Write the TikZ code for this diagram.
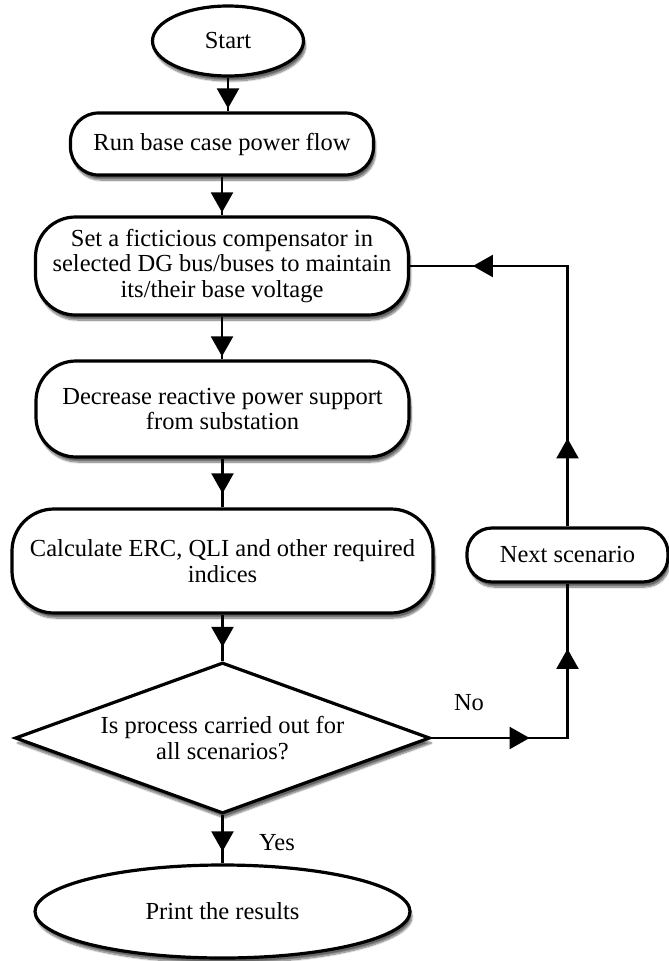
\documentclass[tikz,border=0pt]{standalone}
\usepackage{fontspec}
\setmainfont{Liberation Serif}
\usetikzlibrary{shapes.geometric,arrows.meta,decorations.markings,shadows.blur}

% arrow head placed along a connector
\newcommand\flowtip{\arrow{Triangle[width=22pt,length=20pt]}}

\tikzset{
  box/.style={draw, line width=3.2pt, fill=white, align=center, inner sep=0pt,
    blur shadow={shadow xshift=2pt, shadow yshift=-5pt, shadow blur steps=10, shadow opacity=60}},
  rbox/.style={box, rectangle, rounded corners=#1},
  term/.style={box, ellipse},
  decide/.style={box, diamond, aspect=2.75},
  link/.style={line width=2.2pt},
  tipat/.style={postaction=decorate,
    decoration={markings, mark=at position #1 with {\flowtip}}},
  tiptwo/.style 2 args={postaction=decorate,
    decoration={markings, mark=at position #1 with {\flowtip}, mark=at position #2 with {\flowtip}}},
  lbl/.style={inner sep=0pt},
}

\begin{document}
\begin{tikzpicture}[x=1pt, y=-1pt, font=\fontsize{24.5}{25.5}\selectfont]
\useasboundingbox (0,0) rectangle (669,961);

% process steps
\node[term, minimum width=151, minimum height=70] (start) at (228,41) {Start};
\node[rbox=28, minimum width=303, minimum height=62] (run) at (222,144) {Run base case power flow};
\node[rbox=40, minimum width=373, minimum height=98] (comp) at (222,266)
  {Set a ficticious compensator in\\selected DG bus/buses to maintain\\its/their base voltage};
\node[rbox=40, minimum width=373, minimum height=96] (dec) at (222.5,409)
  {Decrease reactive power support\\from substation};
\node[rbox=42, minimum width=421, minimum height=104] (calc) at (222.5,561)
  {Calculate ERC, QLI and other required\\indices};
\node[decide, minimum width=415, minimum height=151] (ask) at (222.5,738)
  {Is process carried out for\\all scenarios?};
\node[term, minimum width=375, minimum height=93] (print) at (222.5,911.5) {Print the results};
\node[rbox=25, minimum width=201, minimum height=54] (next) at (567.5,555) {Next scenario};

% branch labels
\node[lbl] (no) at (469,703) {No};
\node[lbl] (yes) at (277,843) {Yes};

% main flow
\draw[link, tipat=-3pt] (start.south) -- (start.south |- run.north);
\draw[link, tipat=-3pt] (run.south) -- (comp.north);
\draw[link, tipat=-3pt] (comp.south) -- (comp.south |- dec.north);
\draw[link, tipat=-14pt] (dec.south) -- (calc.north);
\draw[link, tipat=-14pt] (calc.south) -- (ask.north);
\draw[link, tipat=-12pt] (ask.south) -- (print.north);

% loop back for the next scenario
\draw[link, tiptwo={98pt}{225pt}] (ask.east) -- (next.south |- ask.east) -- (next.south);
\draw[link, tiptwo={88pt}{355pt}] (next.north) -- (next.north |- comp.east) -- (comp.east);
\end{tikzpicture}
\end{document}
